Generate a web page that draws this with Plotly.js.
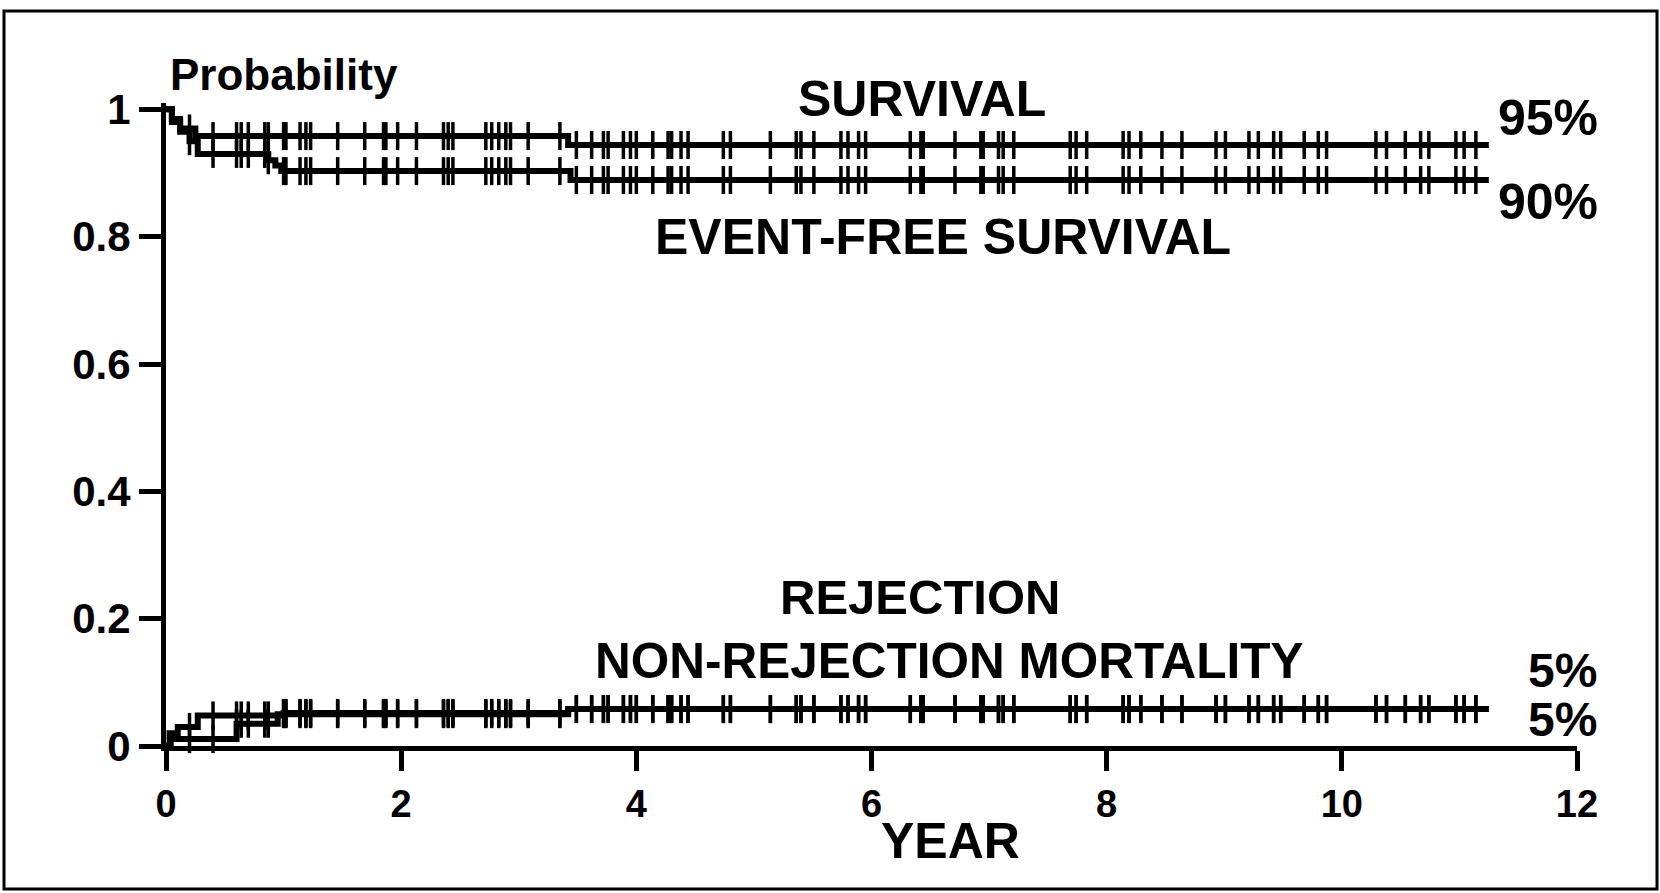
<!DOCTYPE html>
<html>
<head>
<meta charset="utf-8">
<script src="https://cdn.plot.ly/plotly-3.0.1.min.js"></script>
<style>html,body{margin:0;padding:0;background:#fff;}#chart{width:1660px;height:893px;}</style>
</head>
<body>
<div id="chart"></div>
<script>
// ---- data ----
const survivalTimes   = [0, 0.05, 0.12, 0.25, 3.42, 11.25];
const survivalValues  = [1, 0.985, 0.97, 0.958, 0.944, 0.944];

const eventFreeTimes  = [0, 0.05, 0.12, 0.2, 0.27, 0.87, 0.93, 0.98, 3.44, 11.25];
const eventFreeValues = [1, 0.98, 0.965, 0.95, 0.93, 0.92, 0.912, 0.903, 0.889, 0.889];

const rejectionTimes  = [0, 0.04, 0.6, 0.95, 3.42, 11.25];
const rejectionValues = [0, 0.011, 0.035, 0.05, 0.058, 0.058];

const nonRejTimes     = [0, 0.03, 0.1, 0.27, 1.0, 3.42, 11.25];
const nonRejValues    = [0, 0.02, 0.03, 0.048, 0.052, 0.058, 0.058];

const censorTimes = [0.2, 0.40, 0.60, 0.64, 0.70, 0.84, 0.87, 1.00, 1.02, 1.14, 1.19, 1.23,
  1.46, 1.69, 1.85, 1.87, 1.97, 2.13, 2.36, 2.40, 2.44, 2.72, 2.77, 2.83, 2.89, 2.93,
  3.08, 3.35, 3.49, 3.62, 3.72, 3.76, 3.89, 3.95, 4.0, 4.14, 4.27, 4.30, 4.38, 4.44,
  4.74, 4.80, 5.14, 5.36, 5.40, 5.51, 5.74, 5.80, 5.89, 5.95, 6.33, 6.42, 6.44, 6.71,
  6.93, 6.95, 7.08, 7.12, 7.21, 7.69, 7.74, 7.83, 8.14, 8.19, 8.29, 8.47, 8.64, 8.93,
  9.01, 9.21, 9.29, 9.42, 9.48, 9.68, 9.80, 9.87, 10.29, 10.38, 10.54, 10.67, 10.74,
  10.97, 11.04, 11.14];

const xTickVals = [0, 2, 4, 6, 8, 10, 12];
const xTickText = ['0', '2', '4', '6', '8', '10', '12'];
const yTickVals = [0, 0.2, 0.4, 0.6, 0.8, 1];
const yTickText = ['0', '0.2', '0.4', '0.6', '0.8', '1'];

const curveLabels = ['SURVIVAL', 'EVENT-FREE SURVIVAL', 'REJECTION', 'NON-REJECTION MORTALITY'];
const endLabels = ['95%', '90%', '5%', '5%'];

// ---- helpers ----
const X_MAX = 12, Y_MAX = 1.01;
function stepAt(times, values, t) {
  let v = values[0];
  for (let i = 0; i < times.length; i++) { if (times[i] <= t) v = values[i]; }
  return v;
}
const FONT = 'Liberation Sans, Arial, Helvetica, sans-serif';
const curves = [
  [survivalTimes, survivalValues],
  [eventFreeTimes, eventFreeValues],
  [rejectionTimes, rejectionValues],
  [nonRejTimes, nonRejValues]
];
const traces = [];
curves.forEach(([t, v], i) => {
  traces.push({
    x: t, y: v, type: 'scatter', mode: 'lines',
    line: {color: '#000', width: 6, shape: 'hv'},
    name: curveLabels[i], showlegend: false, hoverinfo: 'skip'
  });
});
curves.forEach(([t, v], i) => {
  traces.push({
    x: censorTimes, y: censorTimes.map(c => stepAt(t, v, c)),
    type: 'scatter', mode: 'markers', cliponaxis: false,
    marker: {symbol: 'line-ns', size: 20, color: '#000', line: {color: '#000', width: 3.5}},
    showlegend: false, hoverinfo: 'skip'
  });
});

// annotations placed in paper coordinates converted from data units
function ann(text, x, y, size, xanchor) {
  return {text: '<b>' + text + '</b>', x: x / X_MAX, y: y / Y_MAX, xref: 'paper', yref: 'paper',
    showarrow: false, xanchor: xanchor || 'center', yanchor: 'middle',
    font: {family: FONT, size: size, color: '#000'}};
}

const layout = {
  width: 1660, height: 893,
  margin: {l: 166, r: 83, t: 103, b: 147},
  paper_bgcolor: '#fff', plot_bgcolor: '#fff',
  showlegend: false,
  xaxis: {
    range: [0, X_MAX], tickvals: xTickVals, ticktext: xTickText,
    showline: true, linecolor: '#000', linewidth: 5,
    ticks: 'outside', ticklen: 20, tickwidth: 5, tickcolor: '#000',
    ticklabelstandoff: 0,
    showgrid: false, zeroline: false,
    tickfont: {family: FONT, size: 38, color: '#000', weight: 'bold'}
  },
  yaxis: {
    range: [0, Y_MAX], tickvals: yTickVals, ticktext: yTickText,
    showline: true, linecolor: '#000', linewidth: 5,
    ticks: 'outside', ticklen: 22, tickwidth: 5, tickcolor: '#000',
    showgrid: false, zeroline: false,
    tickfont: {family: FONT, size: 42, color: '#000', weight: 'bold'}
  },
  annotations: [
    ann('Probability', 0.02, 1.055, 44, 'left'),
    ann(curveLabels[0], 6.43, 1.017, 50),
    ann(curveLabels[1], 6.61, 0.80, 50),
    ann(curveLabels[2], 6.41, 0.234, 49),
    ann(curveLabels[3], 6.66, 0.135, 49.5),
    ann(endLabels[0], 11.75, 0.987, 50),
    ann(endLabels[1], 11.75, 0.854, 50),
    ann(endLabels[2], 11.88, 0.118, 48),
    ann(endLabels[3], 11.88, 0.042, 48),
    ann('YEAR', 6.67, -0.149, 50)
  ],
  shapes: [
    {type: 'rect', xref: 'paper', yref: 'paper',
     x0: (4 - 166) / 1411, x1: (1657 - 166) / 1411,
     y0: (746 - 889) / 643, y1: (746 - 11) / 643,
     line: {color: '#000', width: 3}, fillcolor: 'rgba(0,0,0,0)', layer: 'below'}
  ]
};

Plotly.newPlot('chart', traces, layout, {staticPlot: true, displayModeBar: false});
</script>
</body>
</html>
